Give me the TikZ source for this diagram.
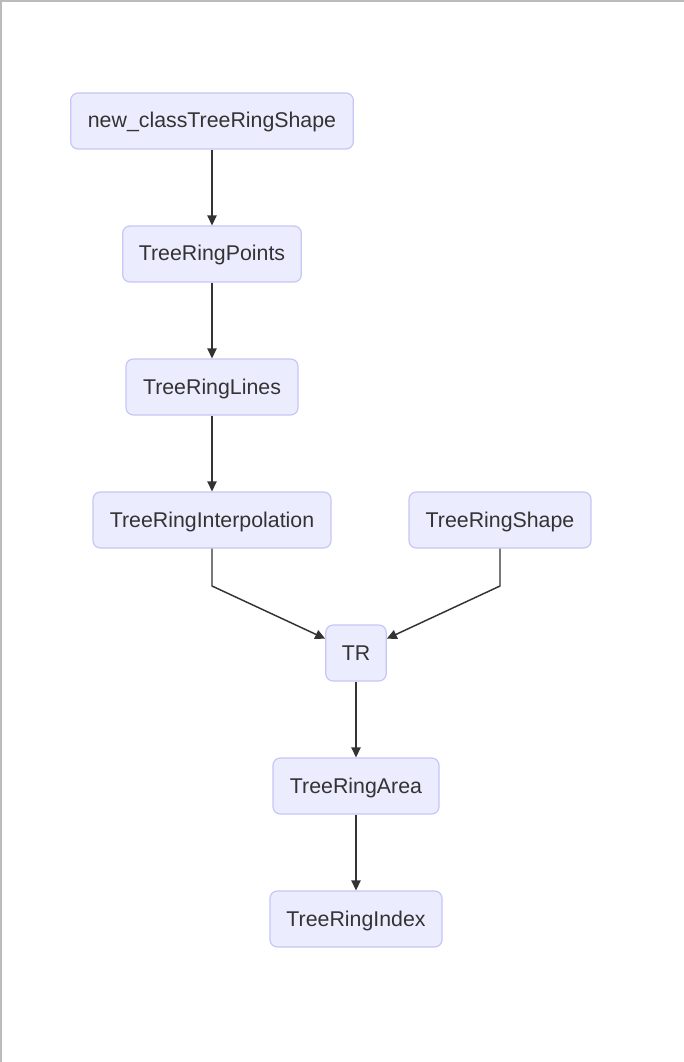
\documentclass[tikz,border=0pt]{standalone}
\usepackage{fontspec}
\setmainfont{Liberation Sans}
\usetikzlibrary{arrows.meta}
\definecolor{TRFill}{HTML}{ECECFF}
\definecolor{TRLine}{HTML}{C6C6F7}
\definecolor{TRText}{HTML}{333333}
\definecolor{TRFrame}{HTML}{BBBBBB}
\tikzset{
  trbox/.style={draw=TRLine,fill=TRFill,rounded corners=5.5pt,line width=0.9pt,
    text=TRText,minimum height=42pt,inner xsep=12pt,text height=14pt,text depth=3.5pt,
    font=\fontsize{16}{19}\selectfont},
  trflow/.style={draw=TRText,line width=1.1pt,-{Triangle[length=7.5pt,width=7pt]}}
}
\begin{document}
\begin{tikzpicture}[x=0.75pt,y=-0.75pt]
\path[use as bounding box] (0,0) rectangle (684,1062);
\fill[white] (0,0) rectangle (684,1062);
\fill[TRFrame] (0,0) rectangle (684,2);
\fill[TRFrame] (0,0) rectangle (2,1062);
% nodes
\node[trbox,minimum width=212pt] (newcls) at (212,121) {new\_classTreeRingShape};
\node[trbox,minimum width=134pt] (points) at (212,254) {TreeRingPoints};
\node[trbox,minimum width=129pt] (lines) at (212,387) {TreeRingLines};
\node[trbox,minimum width=178.5pt] (interp) at (212,520) {TreeRingInterpolation};
\node[trbox,minimum width=136.5pt] (shape) at (500,520) {TreeRingShape};
\node[trbox,minimum width=45pt] (tr) at (356,653) {TR};
\node[trbox,minimum width=124.5pt] (area) at (356,786) {TreeRingArea};
\node[trbox,minimum width=129pt] (index) at (356,919) {TreeRingIndex};
\coordinate (bendL) at (212,586);
\coordinate (bendR) at (500,586);
% connectors
\draw[trflow] (newcls) -- (points);
\draw[trflow] (points) -- (lines);
\draw[trflow] (lines) -- (interp);
\draw[trflow] (interp.south) -- (bendL) -- (tr);
\draw[trflow] (shape.south) -- (bendR) -- (tr);
\draw[trflow] (tr) -- (area);
\draw[trflow] (area) -- (index);
\end{tikzpicture}
\end{document}
